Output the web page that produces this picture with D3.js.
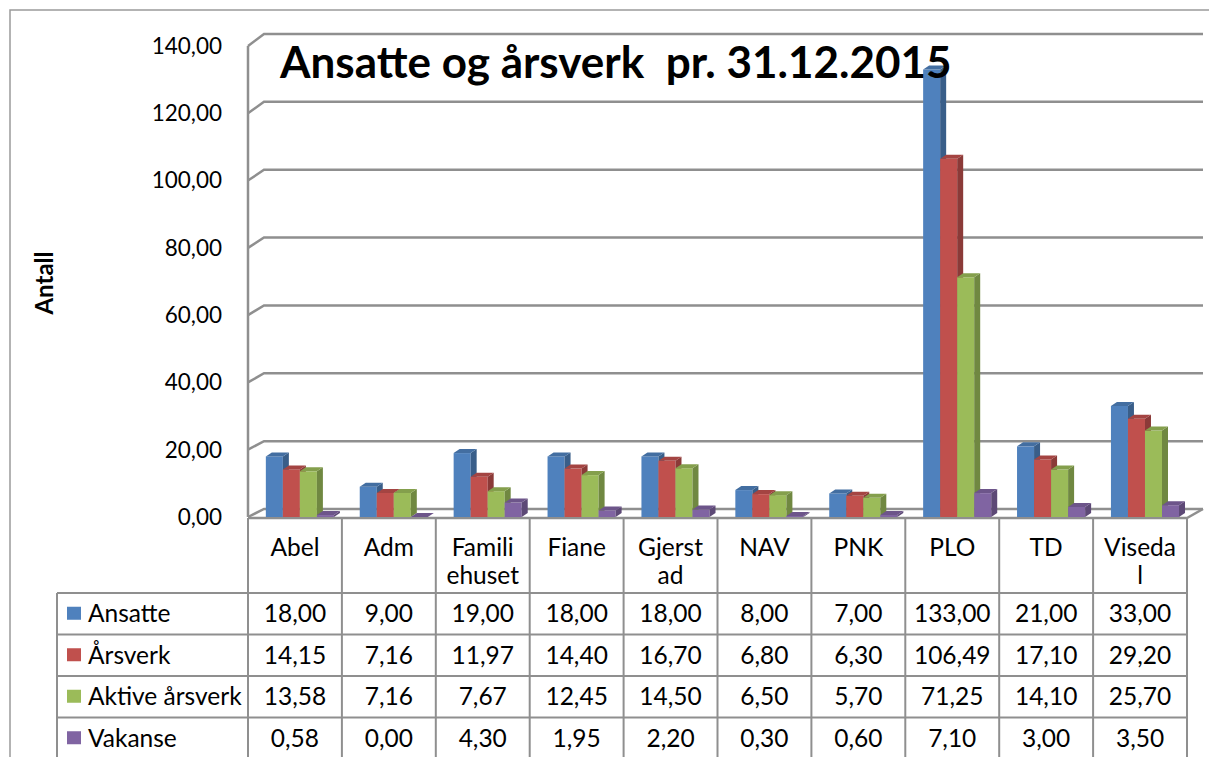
<!DOCTYPE html>
<html>
<head>
<meta charset="utf-8">
<script src="https://cdn.jsdelivr.net/npm/d3@7"></script>
<style>
  html, body { margin: 0; padding: 0; background: #fff; }
  svg { display: block; font-family: Lato, "Open Sans", sans-serif; }
</style>
</head>
<body>
<div id="chart"></div>
<script>
// Data
const categories = ['Abel', 'Adm', 'Familiehuset', 'Fiane', 'Gjerstad', 'NAV', 'PNK', 'PLO', 'TD', 'Visedal'];
const categoryLines = [['Abel'], ['Adm'], ['Famili', 'ehuset'], ['Fiane'], ['Gjerst', 'ad'], ['NAV'], ['PNK'], ['PLO'], ['TD'], ['Viseda', 'l']];
const seriesNames = ['Ansatte', 'Årsverk', 'Aktive årsverk', 'Vakanse'];
const ansatte = [18.00, 9.00, 19.00, 18.00, 18.00, 8.00, 7.00, 133.00, 21.00, 33.00];
const arsverk = [14.15, 7.16, 11.97, 14.40, 16.70, 6.80, 6.30, 106.49, 17.10, 29.20];
const aktiveArsverk = [13.58, 7.16, 7.67, 12.45, 14.50, 6.50, 5.70, 71.25, 14.10, 25.70];
const vakanse = [0.58, 0.00, 4.30, 1.95, 2.20, 0.30, 0.60, 7.10, 3.00, 3.50];
const yTicks = [0, 20, 40, 60, 80, 100, 120, 140];

(function () {
  const W = 1209, H = 757;
  const colors = ['#4F81BD', '#C0504D', '#9BBB59', '#8064A2'];
  const seriesValues = [ansatte, arsverk, aktiveArsverk, vakanse];
  const grid = '#8f8f8f';
  const tableFont = 24.5;

  const fmt = d3.formatLocale({ decimal: ',', thousands: ' ', grouping: [3], currency: ['', ''] }).format('.2f');

  const svg = d3.select('#chart').append('svg')
    .attr('width', W).attr('height', H);

  // plot geometry
  const left = 248, right = 1187;
  const floorDx = 16, barDx = 6, barDy = -4;

  const x = d3.scaleBand().domain(categories).range([left, right]);
  const xSub = d3.scaleBand().domain(seriesNames)
    .range([x.bandwidth() * 0.19, x.bandwidth() * 0.915]);
  const y = d3.scaleLinear().domain([0, 140]).range([517, 46]);
  const yBack = d3.scaleLinear().domain([0, 140]).range([509, 34]);

  // outer chart border
  svg.append('rect')
    .attr('x', 10).attr('y', 10).attr('width', W).attr('height', H)
    .attr('fill', 'none').attr('stroke', '#9a9a9a').attr('stroke-width', 1.5);

  // gridlines on back wall + left wall diagonals
  const gridG = svg.append('g');
  yTicks.forEach(t => {
    gridG.append('polyline')
      .attr('points', `${left},${y(t)} ${left + floorDx},${yBack(t)} ${right + floorDx},${yBack(t)}`)
      .attr('fill', 'none').attr('stroke', grid).attr('stroke-width', 2.5);
  });
  // axis line
  gridG.append('line')
    .attr('x1', left).attr('x2', left).attr('y1', y(140)).attr('y2', y(0))
    .attr('stroke', grid).attr('stroke-width', 2.5);
  // floor front edge + right edge
  gridG.append('polyline')
    .attr('points', `${left},${y(0) + 1} ${right},${y(0) + 1} ${right + floorDx},${yBack(0)}`)
    .attr('fill', 'none').attr('stroke', grid).attr('stroke-width', 2.5);

  // tick labels
  svg.append('g').selectAll('text').data(yTicks).join('text')
    .attr('x', 222).attr('y', d => y(d))
    .attr('dy', '0.35em')
    .attr('text-anchor', 'end')
    .attr('font-size', 22.5)
    .attr('fill', '#000')
    .text(d => fmt(d));

  // axis title
  svg.append('text')
    .attr('transform', 'translate(53,283) rotate(-90)')
    .attr('text-anchor', 'middle')
    .attr('font-size', 24).attr('font-weight', 'bold')
    .text('Antall');

  // bars
  const shade = (c, k) => d3.color(c).darker(k).formatHex();
  const barsG = svg.append('g');
  categories.forEach((cat, ci) => {
    seriesNames.forEach((s, si) => {
      const v = seriesValues[si][ci];
      const x0 = x(cat) + xSub(s);
      const w = xSub.bandwidth();
      const yt = y(v), yb = y(0);
      const g = barsG.append('g');
      if (v > 0) {
        g.append('rect')
          .attr('x', x0).attr('y', yt).attr('width', w).attr('height', yb - yt)
          .attr('fill', colors[si]);
        g.append('polygon')
          .attr('points', `${x0 + w},${yt} ${x0 + w + barDx},${yt + barDy} ${x0 + w + barDx},${yb + barDy} ${x0 + w},${yb}`)
          .attr('fill', shade(colors[si], 0.9));
      }
      g.append('polygon')
        .attr('points', `${x0},${yt} ${x0 + barDx},${yt + barDy} ${x0 + w + barDx},${yt + barDy} ${x0 + w},${yt}`)
        .attr('fill', shade(colors[si], 0.45));
    });
  });

  // data table
  const rowTop = 593, rowH = 41.5, legLeft = 57;
  const tableG = svg.append('g');
  const line = (x1, y1, x2, y2) => tableG.append('line')
    .attr('x1', x1).attr('y1', y1).attr('x2', x2).attr('y2', y2)
    .attr('stroke', grid).attr('stroke-width', 2);

  categories.forEach(cat => line(x(cat), y(0) + 1, x(cat), H));
  line(right, y(0) + 1, right, H);
  line(legLeft, rowTop, legLeft, H);
  for (let r = 0; r < 4; r++) line(legLeft, rowTop + r * rowH, right, rowTop + r * rowH);

  // category labels
  categories.forEach((cat, ci) => {
    const t = tableG.append('text')
      .attr('text-anchor', 'middle')
      .attr('font-size', tableFont);
    categoryLines[ci].forEach((ln, li) => {
      t.append('tspan')
        .attr('x', x(cat) + x.bandwidth() / 2)
        .attr('y', 556 + li * 28)
        .text(ln);
    });
  });

  // legend + values
  seriesNames.forEach((s, si) => {
    const cy = rowTop + si * rowH + rowH / 2;
    tableG.append('rect')
      .attr('x', 67).attr('y', cy - 7).attr('width', 14).attr('height', 13)
      .attr('fill', colors[si]);
    tableG.append('text')
      .attr('x', 88).attr('y', cy).attr('dy', '0.35em')
      .attr('font-size', tableFont)
      .text(s);
    categories.forEach((cat, ci) => {
      tableG.append('text')
        .attr('x', x(cat) + x.bandwidth() / 2).attr('y', cy).attr('dy', '0.35em')
        .attr('text-anchor', 'middle')
        .attr('font-size', tableFont)
        .text(fmt(seriesValues[si][ci]));
    });
  });

  // title (drawn over the bars)
  svg.append('text')
    .attr('x', 280).attr('y', 78)
    .attr('font-size', 44).attr('font-weight', 'bold')
    .attr('xml:space', 'preserve')
    .style('white-space', 'pre')
    .text('Ansatte og årsverk  pr. 31.12.2015');
})();
</script>
</body>
</html>
